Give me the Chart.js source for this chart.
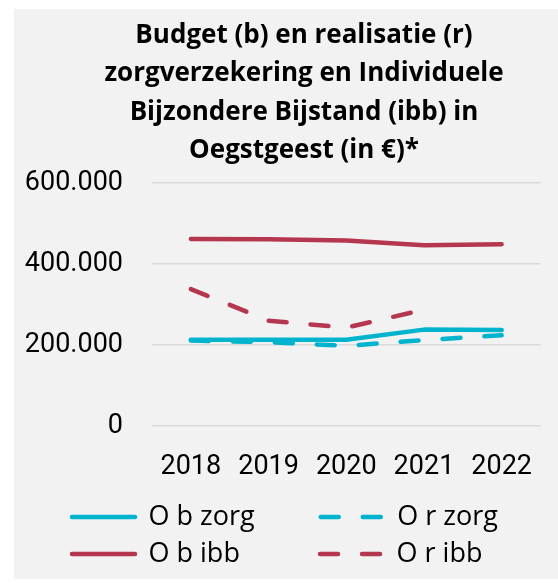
<!DOCTYPE html>
<html>
<head>
<meta charset="utf-8">
<script src="https://cdn.jsdelivr.net/npm/chart.js@4"></script>
<style>
    body { margin: 0; background: #ffffff; overflow: hidden; }
    #panel { position: absolute; left: 14px; top: 9px; width: 544px; height: 570px; background: #f2f2f2; }
</style>
</head>
<body>
<div id="panel"><canvas id="chart" width="544" height="570"></canvas></div>
<script>
const years = ['2018', '2019', '2020', '2021', '2022'];
const budgetZorg = [213000, 213000, 213000, 238000, 237000];
const realisatieZorg = [211000, 207000, 198000, 212000, 224000];
const budgetIbb = [462000, 461000, 458000, 446000, 449000];
const realisatieIbb = [338000, 260000, 243000, 287000, null];
const titleLines = ['Budget (b) en realisatie (r)', 'zorgverzekering en Individuele', 'Bijzondere Bijstand (ibb) in', 'Oegstgeest (in €)*'];
const yTicks = [0, 200000, 400000, 600000];

const cyan = '#00b4cd';
const red = '#b5374f';
const tickFont = 'Roboto';
const textFont = '"Open Sans"';
const dash = [18, 24];

// pad first-column legend texts so the second column lines up
function padText(text, width) {
    var c = document.createElement('canvas').getContext('2d');
    c.font = '27px ' + textFont;
    while (c.measureText(text).width < width) {
        text += '\u00a0';
    }
    return text;
}

function dotted(v) {
    return String(v).replace(/\B(?=(\d{3})+(?!\d))/g, '.');
}

const ctx = document.getElementById('chart').getContext('2d');

const data = {
    labels: years,
    datasets: [
        { label: 'O b zorg', data: budgetZorg, borderColor: cyan },
        { label: 'O r zorg', data: realisatieZorg, borderColor: cyan, borderDash: dash },
        { label: 'O b ibb', data: budgetIbb, borderColor: red },
        { label: 'O r ibb', data: realisatieIbb, borderColor: red, borderDash: dash }
    ]
};

const options = {
    responsive: false,
    animation: false,
    layout: { padding: { left: 48, right: 12, top: 0, bottom: 1.5 } },
    elements: {
        line: { borderWidth: 4.5, tension: 0, fill: false, borderCapStyle: 'round', borderJoinStyle: 'round' },
        point: { radius: 0, hoverRadius: 0 }
    },
    scales: {
        x: {
            offset: true,
            grid: { display: false, drawTicks: false },
            border: { display: false },
            ticks: { color: '#000', padding: 24.8, font: { family: tickFont, size: 27 } },
            afterFit: function (s) { s.height = 67.5; }
        },
        y: {
            min: 0,
            max: 600000,
            afterBuildTicks: function (s) { s.ticks = yTicks.map(v => ({ value: v })); },
            grid: { color: '#d9d9d9', lineWidth: 1.5, drawTicks: false },
            border: { display: false },
            ticks: { color: '#000', padding: 29, font: { family: tickFont, size: 27 }, callback: dotted },
            afterFit: function (s) {
                s.width = 90;
                // labels stick out to the left of the narrowed box, so don't clip them
                s._computeLabelArea = function () { return null; };
            }
        }
    },
    plugins: {
        title: {
            display: true,
            text: titleLines,
            color: '#000',
            padding: { top: 7.5, bottom: 13.3 },
            font: { family: textFont, size: 26, weight: 'bold', lineHeight: 1.473 }
        },
        legend: {
            position: 'bottom',
            align: 'start',
            labels: {
                color: '#000',
                font: { family: textFont, size: 27 },
                usePointStyle: true,
                pointStyle: 'line',
                pointStyleWidth: 63,
                padding: 10,
                generateLabels: function (chart) {
                    var items = Chart.defaults.plugins.legend.labels.generateLabels(chart);
                    items.forEach(function (item, i) {
                        item.lineWidth = 4.5;
                        item.lineCap = 'round';
                        item.lineDash = chart.data.datasets[i].borderDash || [];
                    });
                    items[0].text = padText(items[0].text, 158.5);
                    items[2].text = padText(items[2].text, 158.5);
                    return items;
                }
            }
        },
        tooltip: { enabled: false }
    }
};

new Chart(ctx, { type: 'line', data: data, options: options });
</script>
</body>
</html>
